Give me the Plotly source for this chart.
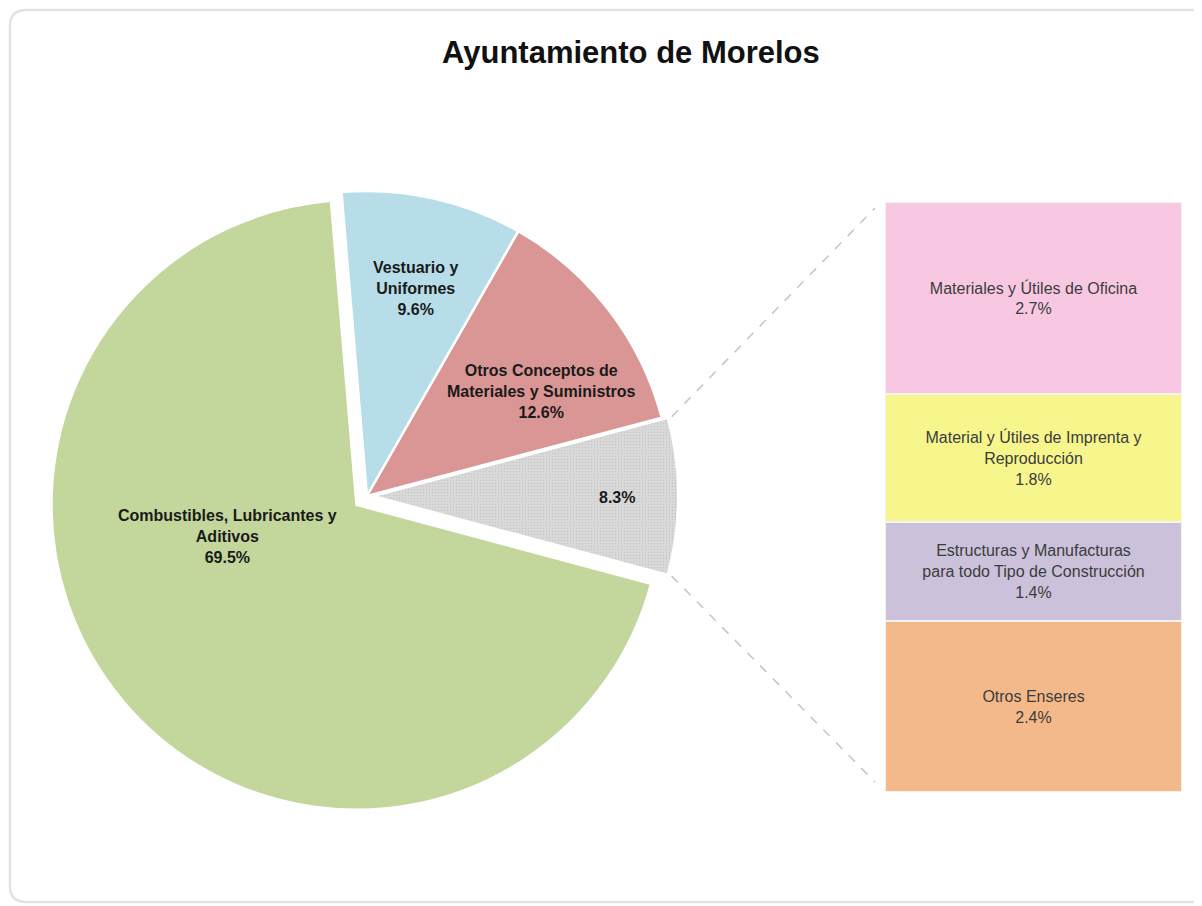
import math
import plotly.graph_objects as go

# page body has an 8px margin, so work in reference pixels and shift
OFF = 8
W, H = 1194, 898

# ---------------- data ----------------
pie_labels = ["Vestuario y Uniformes",
              "Otros Conceptos de Materiales y Suministros",
              "Otros",
              "Combustibles, Lubricantes y Aditivos"]
pie_values = [9.6, 12.6, 8.3, 69.5]
pie_text = ["Vestuario y<br>Uniformes<br>9.6%",
            "Otros Conceptos de<br>Materiales y Suministros<br>12.6%",
            "8.3%",
            "Combustibles, Lubricantes y<br>Aditivos<br>69.5%"]

bar_labels = ["Otros Enseres",
              "Estructuras y Manufacturas<br>para todo Tipo de Construcción",
              "Material y Útiles de Imprenta y<br>Reproducción",
              "Materiales y Útiles de Oficina"]
bar_values = [2.4, 1.4, 1.8, 2.7]

# ---------------- styles ----------------
pie_colors = ["#b7dde8", "#d99694", "#d9d9d9", "#c3d69b"]
pie_pull = [0, 0, 0.02, 0.045]
bar_colors = ["#f4b98b", "#cbc1da", "#f6f68c", "#f8c8e2"]
FONT = "Liberation Sans, Arial, sans-serif"
ROTATION = -4.8


def fx(x):
    return (x - OFF) / W


def fy(y):
    return 1 - (y - OFF) / H


# pie geometry (reference pixels)
cx, cy, r = 367, 496, 305
maxpull = max(pie_pull)
half = r * (1 + maxpull)
pie_dom_x = [fx(cx - half), fx(cx + half)]
pie_dom_y = [fy(cy + half), fy(cy - half)]

total = sum(pie_values)
other_idx = 2
before = sum(pie_values[:other_idx])

# bar geometry (reference pixels)
bx0, bx1, by0, by1 = 885, 1182, 202, 792

fig = go.Figure()

fig.add_trace(go.Pie(
    labels=pie_labels, values=pie_values, sort=False, direction="clockwise",
    rotation=ROTATION, pull=pie_pull, textinfo="none", hoverinfo="skip",
    domain=dict(x=pie_dom_x, y=pie_dom_y), showlegend=False,
    marker=dict(colors=pie_colors, line=dict(color="white", width=2.5),
                pattern=dict(shape=["", "", ".", ""], fgcolor="#c6c6c6",
                             bgcolor=pie_colors, size=3, solidity=0.15)),
))

for lab, val, col in zip(bar_labels, bar_values, bar_colors):
    pct = f"{val:.1f}%"
    fig.add_trace(go.Bar(
        x=[0], y=[val], width=1, xaxis="x2", yaxis="y2",
        marker=dict(color=col, line=dict(color="#f4f4f4", width=2)),
        text=[f"{lab}<br>{pct}"], textposition="inside", insidetextanchor="middle",
        textangle=0, textfont=dict(family=FONT, size=16, color="#3c3c3c"),
        hoverinfo="skip", showlegend=False,
    ))

fig.update_layout(
    width=W, height=H, barmode="stack",
    margin=dict(l=0, r=0, t=0, b=0),
    paper_bgcolor="white", plot_bgcolor="rgba(0,0,0,0)",
    xaxis2=dict(domain=[fx(bx0), fx(bx1)], range=[-0.5, 0.5], visible=False,
                fixedrange=True),
    yaxis2=dict(domain=[fy(by1), fy(by0)], range=[0, sum(bar_values)],
                visible=False, fixedrange=True, anchor="x2"),
)

# title
fig.add_annotation(x=fx(631), y=fy(52), xref="paper", yref="paper",
                   xanchor="center", yanchor="middle",
                   text="<b>Ayuntamiento de Morelos</b>", showarrow=False,
                   font=dict(family=FONT, size=31, color="#111111"))

# pie labels
label_pos = [(415, 288), (541, 391), (617, 498), (227, 536)]
for t, (lx, ly) in zip(pie_text, label_pos):
    fig.add_annotation(x=fx(lx), y=fy(ly), xref="paper", yref="paper",
                       xanchor="center", yanchor="middle", text=f"<b>{t}</b>",
                       showarrow=False,
                       font=dict(family=FONT, size=16, color="#1a1a1a"))

# connector lines from the "other" slice to the bar
a0 = ROTATION + 360 * before / total
a1 = a0 + 360 * pie_values[other_idx] / total
am = math.radians((a0 + a1) / 2)
off = pie_pull[other_idx] * r
ocx = cx + off * math.sin(am)
ocy = cy - off * math.cos(am)
for a, (ex, ey) in ((a0, (bx0 - 10, by0 + 6)), (a1, (bx0 - 10, by1 - 10))):
    ar = math.radians(a)
    sx = ocx + (r + 4) * math.sin(ar)
    sy = ocy - (r + 4) * math.cos(ar)
    fig.add_shape(type="line", xref="paper", yref="paper",
                  x0=fx(sx), y0=fy(sy), x1=fx(ex), y1=fy(ey),
                  line=dict(color="#c4c4c4", width=1.5, dash="dash"))

# card border (rounded)
L, T, R, B, rad = 10, 10, 1240, 902, 16


def P(x, y):
    return f"{fx(x):.5f},{fy(y):.5f}"


path = (f"M {P(R, T)} L {P(L + rad, T)} Q {P(L, T)} {P(L, T + rad)} "
        f"L {P(L, B - rad)} Q {P(L, B)} {P(L + rad, B)} L {P(R, B)}")
fig.add_shape(type="path", xref="paper", yref="paper", path=path,
              line=dict(color="#e3e3e3", width=2.5), layer="below")

fig.write_html("out.html")
